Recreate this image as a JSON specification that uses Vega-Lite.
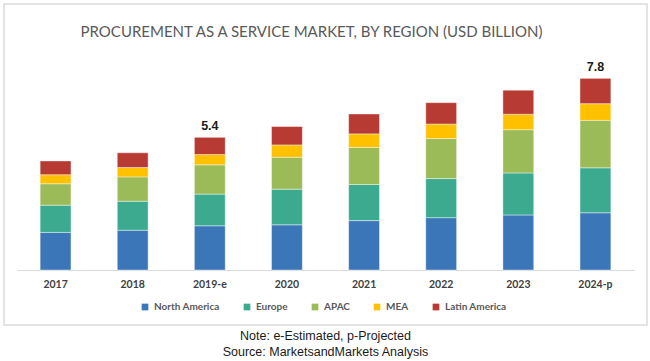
{
  "$schema": "https://vega.github.io/schema/vega-lite/v6.json",
  "padding": {"left": 3, "top": 3, "right": 3, "bottom": 0},
  "background": "#ffffff",
  "title": {
    "text": ["Note: e-Estimated, p-Projected", "Source: MarketsandMarkets Analysis"],
    "orient": "bottom",
    "anchor": "middle",
    "font": "Liberation Sans",
    "fontSize": 12.5,
    "fontWeight": "normal",
    "color": "#1a1a1a",
    "lineHeight": 16.7,
    "offset": 4
  },
  "datasets": {
    "segments": [
      {"year": "2017", "region": "North America", "k": 0, "value": 1.53},
      {"year": "2017", "region": "Europe", "k": 1, "value": 1.11},
      {"year": "2017", "region": "APAC", "k": 2, "value": 0.87},
      {"year": "2017", "region": "MEA", "k": 3, "value": 0.37},
      {"year": "2017", "region": "Latin America", "k": 4, "value": 0.56},
      {"year": "2018", "region": "North America", "k": 0, "value": 1.62},
      {"year": "2018", "region": "Europe", "k": 1, "value": 1.18},
      {"year": "2018", "region": "APAC", "k": 2, "value": 0.99},
      {"year": "2018", "region": "MEA", "k": 3, "value": 0.38},
      {"year": "2018", "region": "Latin America", "k": 4, "value": 0.60},
      {"year": "2019-e", "region": "North America", "k": 0, "value": 1.80},
      {"year": "2019-e", "region": "Europe", "k": 1, "value": 1.29},
      {"year": "2019-e", "region": "APAC", "k": 2, "value": 1.19},
      {"year": "2019-e", "region": "MEA", "k": 3, "value": 0.42},
      {"year": "2019-e", "region": "Latin America", "k": 4, "value": 0.70},
      {"year": "2020", "region": "North America", "k": 0, "value": 1.84},
      {"year": "2020", "region": "Europe", "k": 1, "value": 1.45},
      {"year": "2020", "region": "APAC", "k": 2, "value": 1.30},
      {"year": "2020", "region": "MEA", "k": 3, "value": 0.50},
      {"year": "2020", "region": "Latin America", "k": 4, "value": 0.75},
      {"year": "2021", "region": "North America", "k": 0, "value": 2.01},
      {"year": "2021", "region": "Europe", "k": 1, "value": 1.47},
      {"year": "2021", "region": "APAC", "k": 2, "value": 1.51},
      {"year": "2021", "region": "MEA", "k": 3, "value": 0.55},
      {"year": "2021", "region": "Latin America", "k": 4, "value": 0.81},
      {"year": "2022", "region": "North America", "k": 0, "value": 2.13},
      {"year": "2022", "region": "Europe", "k": 1, "value": 1.59},
      {"year": "2022", "region": "APAC", "k": 2, "value": 1.63},
      {"year": "2022", "region": "MEA", "k": 3, "value": 0.59},
      {"year": "2022", "region": "Latin America", "k": 4, "value": 0.87},
      {"year": "2023", "region": "North America", "k": 0, "value": 2.24},
      {"year": "2023", "region": "Europe", "k": 1, "value": 1.71},
      {"year": "2023", "region": "APAC", "k": 2, "value": 1.76},
      {"year": "2023", "region": "MEA", "k": 3, "value": 0.63},
      {"year": "2023", "region": "Latin America", "k": 4, "value": 0.98},
      {"year": "2024-p", "region": "North America", "k": 0, "value": 2.33},
      {"year": "2024-p", "region": "Europe", "k": 1, "value": 1.83},
      {"year": "2024-p", "region": "APAC", "k": 2, "value": 1.93},
      {"year": "2024-p", "region": "MEA", "k": 3, "value": 0.68},
      {"year": "2024-p", "region": "Latin America", "k": 4, "value": 1.03}
    ],
    "totals": [
      {"year": "2019-e", "total": 5.4, "label": "5.4"},
      {"year": "2024-p", "total": 7.8, "label": "7.8"}
    ]
  },
  "vconcat": [
    {
      "width": 643,
      "height": 321,
      "title": {
        "text": "PROCUREMENT AS A SERVICE MARKET, BY REGION (USD BILLION)",
        "orient": "top",
        "anchor": "middle",
        "frame": "group",
        "offset": -48,
        "baseline": "alphabetic",
        "dx": -14,
        "font": "Lato",
        "fontSize": 15,
        "fontWeight": "normal",
        "color": "#595959"
      },
      "layer": [
        {
          "data": {"name": "segments"},
          "mark": {"type": "bar", "stroke": "#ffffff", "strokeWidth": 0.6, "strokeOpacity": 0.7},
          "encoding": {
            "x": {
              "field": "year",
              "type": "nominal",
              "sort": ["2017", "2018", "2019-e", "2020", "2021", "2022", "2023", "2024-p"],
              "scale": {"range": [13, 630], "paddingInner": 0.6, "paddingOuter": 0.3},
              "axis": {
                "orient": "bottom",
                "offset": -55,
                "title": null,
                "labelAngle": 0,
                "ticks": false,
                "domainColor": "#d9d9d9",
                "domainWidth": 1,
                "labelPadding": 9,
                "labelFont": "Lato",
                "labelFontSize": 10.5,
                "labelFontWeight": "bold",
                "labelColor": "#404040"
              }
            },
            "y": {
              "field": "value",
              "type": "quantitative",
              "stack": "zero",
              "scale": {"domain": [0, 10], "range": [266, 20.3], "nice": false},
              "axis": null
            },
            "color": {
              "field": "region",
              "type": "nominal",
              "scale": {
                "domain": ["North America", "Europe", "APAC", "MEA", "Latin America"],
                "range": ["#3b77b8", "#3baa8f", "#9bbb59", "#ffc000", "#b83b33"]
              },
              "legend": {
                "title": null,
                "orient": "none",
                "legendX": 136,
                "legendY": 298,
                "direction": "horizontal",
                "symbolType": "square",
                "symbolSize": 45,
                "symbolStrokeWidth": 0,
                "columnPadding": 22,
                "labelOffset": 4,
                "labelFont": "Lato",
                "labelFontSize": 10,
                "labelFontWeight": "bold",
                "labelColor": "#595959"
              }
            },
            "order": {"field": "k", "type": "quantitative", "sort": "ascending"}
          }
        },
        {
          "data": {"name": "totals"},
          "mark": {
            "type": "text",
            "baseline": "alphabetic",
            "dy": -7,
            "font": "Liberation Sans",
            "fontSize": 12.5,
            "fontWeight": "bold",
            "color": "#1a1a1a"
          },
          "encoding": {
            "x": {"field": "year", "type": "nominal", "sort": ["2017", "2018", "2019-e", "2020", "2021", "2022", "2023", "2024-p"]},
            "y": {"field": "total", "type": "quantitative"},
            "text": {"field": "label", "type": "nominal"}
          }
        }
      ]
    }
  ],
  "config": {
    "view": {"stroke": "#dcdcdc", "strokeWidth": 1.5},
    "axis": {"grid": false}
  }
}
